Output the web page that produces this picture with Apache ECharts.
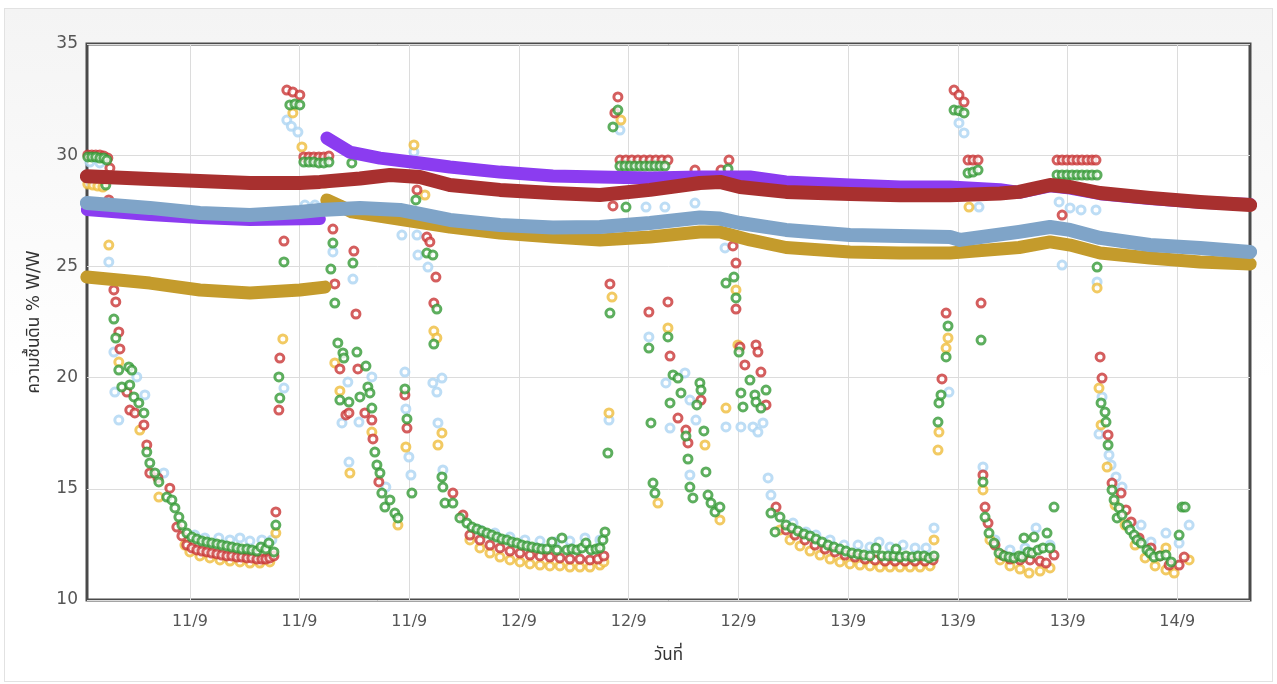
<!DOCTYPE html>
<html>
<head>
<meta charset="utf-8">
<script src="https://cdn.jsdelivr.net/npm/echarts@6/dist/echarts.min.js"></script>
<style>
html,body{margin:0;padding:0;width:1277px;height:684px;overflow:hidden;background:#fff;}
#frame{position:absolute;left:4px;top:8px;width:1267px;height:672px;border:1px solid #e2e2e2;
background:linear-gradient(to bottom,#f4f4f4 0%,#f9f9f9 25%,#ffffff 55%,#ffffff 100%);}
#chart{position:absolute;left:0;top:0;width:1277px;height:684px;}
</style>
</head>
<body>
<div id="frame"></div>
<div id="chart"></div>
<script>
// x values: hours relative to the first tick (11/9); y: soil moisture % W/W
const tickHours = [0, 8, 16, 24, 32, 40, 48, 56, 64, 72];
const tickLabels = ['11/9','11/9','11/9','12/9','12/9','12/9','13/9','13/9','13/9','14/9'];

const purpleA = [[-7.51,27.54],[-2.92,27.31],[0.73,27.18],[4.38,27.09],[9.48,27.13]];
const purpleB = [[9.99,30.77],[11.67,30.14],[13.86,29.87],[16.77,29.65],[18.96,29.47],[22.61,29.24],[26.47,29.06],[29.90,29.02],[33.55,28.97],[37.19,29.02],[40.84,29.02],[43.47,28.80],[48.13,28.66],[51.78,28.57],[55.43,28.57],[59.07,28.45],[60.46,28.33],[62.72,28.62],[64.18,28.52],[66.37,28.27],[70.01,28.05],[73.66,27.88],[77.31,27.78]];
const goldA = [[-7.51,24.52],[-2.92,24.25],[0.73,23.94],[4.38,23.80],[8.02,23.94],[9.85,24.07]];
const goldB = [[9.99,27.99],[10.94,27.72],[11.81,27.45],[15.32,27.12],[18.96,26.77],[22.61,26.50],[26.47,26.32],[29.90,26.19],[33.55,26.32],[37.19,26.55],[38.65,26.55],[40.84,26.19],[43.47,25.85],[48.13,25.65],[51.78,25.60],[55.43,25.60],[60.46,25.85],[62.72,26.10],[64.18,25.96],[66.37,25.60],[70.01,25.38],[73.66,25.20],[77.31,25.11]];
const steelBand = [[-7.51,27.85],[-2.92,27.63],[0.73,27.40],[4.38,27.31],[8.02,27.45],[9.48,27.54],[12.40,27.63],[15.32,27.54],[18.96,27.09],[22.61,26.86],[26.47,26.75],[29.90,26.77],[33.55,26.95],[37.19,27.20],[38.65,27.15],[40.11,26.95],[43.47,26.64],[48.13,26.41],[51.78,26.37],[55.43,26.32],[56.16,26.19],[60.46,26.55],[62.72,26.77],[64.18,26.64],[66.37,26.28],[70.01,25.96],[73.66,25.83],[77.31,25.65]];
const redBand = [[-7.51,29.05],[-2.92,28.93],[0.73,28.84],[4.38,28.75],[8.02,28.75],[9.48,28.80],[12.40,28.95],[14.59,29.11],[16.77,29.02],[18.96,28.66],[22.61,28.44],[26.47,28.30],[29.90,28.21],[33.55,28.44],[37.19,28.75],[38.65,28.80],[40.11,28.57],[43.47,28.35],[48.13,28.25],[51.78,28.20],[55.43,28.20],[59.07,28.28],[60.46,28.35],[62.72,28.66],[64.18,28.57],[66.37,28.30],[70.01,28.08],[73.66,27.90],[77.31,27.76]];

const blueSensor = [[-7.29,29.69],[-6.56,29.65],[-5.91,25.20],[-5.54,21.15],[-5.47,19.35],[-5.18,18.09],[-3.87,20.03],[-3.28,19.22],[-1.90,15.71],
[0.36,12.92],[1.09,12.79],[2.11,12.79],[2.92,12.70],[3.65,12.79],[4.38,12.65],[5.25,12.70],[5.98,12.70],
[6.86,19.53],[7.07,31.58],[7.40,31.30],[7.88,31.04],[8.39,27.76],[9.12,27.76],[9.85,27.76],
[10.43,25.65],[11.89,24.43],[11.52,19.80],[13.27,20.03],[11.09,17.96],[12.33,18.00],[14.29,15.08],[11.60,16.20],
[15.68,20.25],[15.75,18.59],[15.97,16.43],[16.12,15.62],[16.34,30.14],
[15.46,26.41],[16.56,26.41],[16.63,25.51],[17.36,24.97],[17.72,19.76],[18.38,19.98],[18.01,19.35],[18.09,17.96],[18.45,15.85],
[21.15,13.15],[22.24,13.01],[23.34,12.83],[24.43,12.70],[25.53,12.65],[26.62,12.61],[27.71,12.65],[28.81,12.79],[29.90,12.70],
[31.36,31.13],[30.56,18.09],
[33.26,27.67],[34.64,27.67],[36.83,27.85],[33.47,21.83],[34.71,19.76],[36.10,20.21],[35.01,17.73],[36.90,18.09],[36.46,18.99],[36.46,15.62],[39.02,25.83],[39.09,17.78],[40.18,17.78],[41.06,17.78],[41.79,17.96],[41.42,17.55],[42.16,15.49],[42.37,14.72],
[43.98,13.46],[44.92,13.06],[45.65,12.92],[46.68,12.70],[47.70,12.47],[48.72,12.47],[49.59,12.38],[50.25,12.61],[51.05,12.38],[52.00,12.47],[52.88,12.34],[53.68,12.34],[54.26,13.24],
[55.35,19.35],[56.08,31.45],[56.45,31.00],[57.54,27.67],
[57.83,15.98],[58.71,12.70],[59.80,12.25],[60.90,12.34],[61.70,13.24],[62.72,12.47],
[63.38,27.90],[64.18,27.63],[64.98,27.54],[66.07,27.54],[63.60,25.06],[66.15,24.30],
[66.51,19.13],[66.29,17.46],[67.02,16.52],[67.17,16.07],[67.53,15.53],[67.97,15.08],[69.36,13.37],[70.08,12.61],[71.17,13.01],[72.13,12.56],[72.86,13.37]];

const yellowSensor = [[-7.44,28.70],[-7.07,28.66],[-6.71,28.61],[-6.34,28.57],[-5.91,25.96],[-5.18,20.70],[-3.65,17.64],[-2.26,14.63],
[-0.36,12.47],[0,12.16],[0.73,11.98],[1.46,11.89],[2.19,11.80],[2.92,11.75],[3.65,11.71],[4.38,11.66],[5.10,11.66],[5.83,11.71],[6.27,13.01],
[6.78,21.74],[7.51,31.90],[8.17,30.37],[8.39,28.80],[9.12,28.75],[9.85,28.75],
[10.57,20.66],[10.94,19.40],[11.67,15.71],[13.27,17.55],[15.17,13.37],
[15.75,16.88],[16.34,30.46],[17.14,28.21],
[17.79,22.09],[18.01,21.78],[18.38,17.51],[18.09,16.97],
[20.42,12.70],[21.15,12.34],[21.88,12.11],[22.61,11.93],[23.34,11.80],[24.07,11.71],[24.80,11.62],[25.53,11.57],[26.25,11.53],[26.98,11.53],[27.71,11.48],[28.44,11.48],[29.17,11.48],[29.90,11.57],[30.19,11.71],
[30.78,23.62],[31.43,31.58],[30.56,18.41],
[34.86,22.23],[37.56,16.97],[34.13,14.36],[38.65,13.60],[39.82,23.94],[39.96,21.47],[39.09,18.63],
[43.03,13.15],[43.76,12.70],[44.49,12.43],[45.22,12.20],[45.95,12.02],[46.68,11.84],[47.40,11.71],[48.13,11.62],[48.86,11.57],[49.59,11.53],[50.32,11.48],[51.05,11.48],[51.78,11.48],[52.51,11.48],[53.24,11.48],[53.97,11.53],[54.26,12.70],
[55.28,21.78],[55.14,21.33],[54.62,17.55],[54.55,16.74],[56.81,27.67],
[57.83,14.95],[58.34,12.70],[59.07,11.80],[59.80,11.53],[60.53,11.39],[61.19,11.21],[61.99,11.30],[62.72,11.44],
[66.15,24.03],[66.29,19.53],[66.44,17.87],[66.88,15.98],
[67.46,14.27],[68.19,13.37],[68.92,12.47],[69.65,11.89],[70.38,11.53],[71.17,11.35],[71.77,11.21],[72.86,11.80],[71.17,12.34]];

const redSensor = [[-7.44,30.01],[-7.15,30.01],[-6.86,30.01],[-6.56,30.01],[-6.27,29.96],[-5.98,29.87],[-5.83,29.42],[-5.91,27.99],
[-5.54,23.94],[-5.40,23.40],[-5.18,22.05],[-5.10,21.29],[-4.59,19.35],[-4.38,18.54],[-4.01,18.41],[-3.35,17.87],[-3.14,16.97],[-2.92,15.71],[-2.33,15.49],[-1.46,15.03],[-0.95,13.28],[-0.58,12.88],
[-0.22,12.47],[0.15,12.34],[0.51,12.25],[0.88,12.20],[1.24,12.16],[1.60,12.11],[1.97,12.07],[2.33,12.02],[2.70,11.98],[3.06,11.98],[3.43,11.93],[3.79,11.93],[4.16,11.89],[4.52,11.89],[4.89,11.84],[5.25,11.84],[5.54,11.84],[5.83,11.89],[6.13,11.98],
[6.27,13.96],[6.49,18.54],[6.56,20.88],[6.86,26.14],[7.07,32.93],[7.51,32.84],[8.02,32.71],
[8.31,29.92],[8.68,29.92],[9.04,29.92],[9.41,29.92],[9.77,29.92],[10.14,29.96],
[10.43,26.68],[10.57,24.21],[11.96,25.69],[12.11,22.86],[10.94,20.39],[12.25,20.39],[11.38,18.32],[11.60,18.41],[12.76,18.41],[13.27,18.09],[13.35,17.24],[13.78,15.31],
[15.68,19.22],[15.83,17.73],[16.56,28.44],
[17.28,26.32],[17.50,26.10],[17.94,24.52],[17.79,23.35],[19.18,14.81],[19.91,13.82],
[20.42,12.92],[21.15,12.70],[21.88,12.47],[22.61,12.34],[23.34,12.20],[24.07,12.11],[24.80,12.02],[25.53,11.98],[26.25,11.93],[26.98,11.89],[27.71,11.84],[28.44,11.84],[29.17,11.80],[29.75,11.84],[30.19,11.98],
[30.63,24.21],[30.85,27.72],[30.99,31.90],[31.21,32.62],
[31.36,29.78],[31.80,29.78],[32.23,29.78],[32.67,29.78],[33.11,29.78],[33.55,29.78],[33.98,29.78],[34.42,29.78],[34.86,29.78],
[36.83,29.33],[38.73,29.33],[39.31,29.78],
[33.47,22.95],[34.86,23.40],[35.01,20.97],[35.59,18.18],[36.17,17.64],[36.32,17.06],[37.27,18.99],
[39.60,25.92],[39.82,25.15],[39.82,23.08],
[40.11,21.38],[41.28,21.47],[41.42,21.15],[40.47,20.57],[41.64,20.25],[42.01,18.77],
[42.74,14.18],[43.47,13.15],[44.12,12.92],[44.85,12.70],[45.58,12.47],[46.31,12.29],[47.04,12.16],[47.77,12.02],[48.50,11.93],[49.23,11.84],[49.96,11.80],[50.69,11.75],[51.42,11.75],[52.15,11.75],[52.88,11.75],[53.60,11.75],[54.19,11.80],
[55.14,22.90],[54.84,19.94],
[55.72,32.93],[56.08,32.71],[56.45,32.39],
[56.74,29.78],[57.10,29.78],[57.47,29.78],[57.69,23.35],
[57.83,15.62],[57.98,14.18],[58.20,13.46],[58.71,12.47],[59.22,12.02],[59.80,11.84],[60.53,11.80],[61.26,11.80],[61.99,11.75],[62.43,11.66],[63.01,12.02],
[63.23,29.78],[63.60,29.78],[63.96,29.78],[64.33,29.78],[64.69,29.78],[65.05,29.78],[65.42,29.78],[65.78,29.78],[66.07,29.78],[63.60,27.31],
[66.37,20.93],[66.51,19.98],[66.95,17.42],[67.24,15.26],[67.90,14.81],[68.26,14.05],[68.63,13.51],[69.21,12.79],[70.08,12.34],[70.74,11.98],[71.40,11.57],[72.13,11.57],[72.50,11.93]];

const greenSensor = [[-7.44,29.92],[-7.15,29.92],[-6.86,29.92],[-6.56,29.87],[-6.27,29.87],[-6.05,29.78],[-6.13,28.66],
[-5.54,22.63],[-5.40,21.78],[-5.18,20.34],[-4.96,19.58],[-4.45,20.48],[-4.38,19.67],[-4.23,20.34],[-4.08,19.13],[-3.72,18.86],[-3.35,18.41],[-3.14,16.65],[-2.92,16.16],[-2.55,15.71],[-2.26,15.31],[-1.68,14.63],[-1.31,14.50],[-1.09,14.14],[-0.80,13.73],[-0.58,13.37],[-0.22,13.01],
[0.15,12.83],[0.51,12.74],[0.88,12.65],[1.24,12.61],[1.60,12.56],[1.97,12.52],[2.33,12.47],[2.70,12.43],[3.06,12.38],[3.43,12.34],[3.79,12.29],[4.16,12.29],[4.52,12.25],[4.89,12.20],[5.18,12.38],[5.54,12.29],[5.76,12.56],[6.13,12.16],
[6.27,13.37],[6.49,20.03],[6.56,19.08],[6.86,25.20],[7.29,32.26],[7.66,32.30],[8.02,32.26],
[8.31,29.69],[8.68,29.69],[9.04,29.69],[9.41,29.65],[9.77,29.65],[10.14,29.69],[11.81,29.65],
[10.28,24.88],[10.43,26.05],[10.57,23.35],[10.79,21.56],[10.94,18.99],[11.16,21.11],[11.23,20.88],[11.60,18.90],[11.89,25.15],[12.18,21.15],[12.40,19.13],[12.84,20.52],[12.98,19.58],[13.13,19.31],[13.27,18.63],[13.49,16.65],[13.64,16.07],[13.86,15.71],[14.00,14.81],[14.22,14.18],[14.59,14.50],[14.95,13.91],[15.17,13.69],
[15.68,19.49],[15.83,18.14],[16.19,14.81],[16.48,27.99],
[17.28,25.60],[17.72,25.51],[17.79,21.51],[18.01,23.08],[18.38,15.53],[18.45,15.08],[18.60,14.36],[19.18,14.36],[19.69,13.69],[20.20,13.46],
[20.57,13.28],[20.93,13.19],[21.30,13.10],[21.66,13.01],[22.02,12.92],[22.39,12.83],[22.75,12.74],[23.12,12.70],[23.48,12.61],[23.85,12.56],[24.21,12.47],[24.58,12.43],[24.94,12.38],[25.31,12.34],[25.67,12.29],[26.04,12.29],[26.40,12.61],[26.77,12.25],[27.13,12.79],[27.49,12.25],[27.86,12.29],[28.22,12.25],[28.59,12.34],[28.88,12.56],[29.24,12.25],[29.61,12.29],[29.90,12.34],[30.12,12.70],[30.27,13.06],
[30.48,16.61],[30.63,22.90],[30.85,31.27],[31.21,32.03],[31.80,27.67],
[31.36,29.51],[31.72,29.51],[32.09,29.51],[32.45,29.51],[32.82,29.51],[33.18,29.51],[33.55,29.51],[33.91,29.51],[34.28,29.51],[34.64,29.51],[39.24,29.38],
[33.47,21.33],[33.62,17.96],[33.77,15.26],[33.91,14.81],[34.86,21.83],[35.01,18.86],[35.23,20.12],[35.59,19.98],[35.81,19.31],[36.17,17.37],[36.32,16.34],[36.46,15.08],[36.68,14.59],[36.97,18.77],[37.19,19.76],[37.27,19.44],[37.48,17.60],[37.63,15.76],[37.78,14.72],[38.00,14.36],[38.29,13.96],[38.65,14.18],
[39.09,24.25],[39.67,24.52],[39.82,23.58],
[40.04,21.15],[40.18,19.31],[40.33,18.68],[40.84,19.89],[41.20,19.22],[41.28,18.90],[41.64,18.63],[42.01,19.44],
[42.37,13.91],[42.67,13.06],[43.03,13.73],[43.47,13.37],[43.90,13.24],[44.34,13.10],[44.78,12.97],[45.22,12.88],[45.65,12.74],[46.09,12.61],[46.53,12.47],[46.97,12.38],[47.40,12.29],[47.84,12.20],[48.28,12.11],[48.72,12.07],[49.15,12.02],[49.59,11.98],[50.03,12.34],[50.47,11.98],[50.91,11.98],[51.34,11.98],[51.49,12.29],[51.78,11.93],[52.22,11.98],[52.66,11.93],[53.10,11.98],[53.53,11.98],[53.90,11.89],[54.26,11.98],
[54.55,18.00],[54.62,18.86],[54.77,19.22],[55.14,20.93],[55.28,22.32],
[55.72,32.03],[56.08,32.00],[56.45,31.90],
[56.74,29.20],[57.10,29.24],[57.47,29.33],[57.69,21.69],
[57.83,15.31],[57.98,13.73],[58.27,13.01],[58.64,12.56],[59.00,12.11],[59.37,11.98],[59.73,11.93],[60.09,11.89],[60.46,11.98],[60.68,11.93],[60.82,12.79],[61.11,12.16],[61.41,12.11],[61.55,12.83],[61.85,12.25],[62.21,12.34],[62.50,13.01],[62.72,12.34],[63.01,14.18],
[63.23,29.11],[63.60,29.11],[63.96,29.11],[64.33,29.11],[64.69,29.11],[65.05,29.11],[65.42,29.11],[65.78,29.11],[66.15,29.11],[66.15,24.97],
[66.44,18.86],[66.73,18.45],[66.80,18.00],[66.95,16.97],[67.24,14.95],[67.39,14.50],[67.61,13.69],[67.75,14.14],[67.97,13.82],[68.34,13.37],[68.55,13.15],[68.85,12.92],[69.06,12.70],[69.36,12.56],[69.79,12.25],[70.01,12.11],[70.30,11.93],[70.74,11.98],[71.17,12.02],[71.55,11.71],[72.13,12.92],[72.35,14.18],[72.57,14.18]];

const chart = echarts.init(document.getElementById('chart'), null, {renderer: 'canvas'});

function band(data, color, width) {
  return {
    type: 'line', data: data, showSymbol: false, silent: true,
    lineStyle: {color: color, width: width, cap: 'round', join: 'round'},
    itemStyle: {color: color}
  };
}
function sensor(data, color) {
  return {
    type: 'scatter', data: data, symbol: 'circle', symbolSize: 8, silent: true,
    itemStyle: {color: '#ffffff', borderColor: color, borderWidth: 3}
  };
}

const thaiFont = "'DejaVu Sans','Noto Sans Thai','Noto Sans','Loma','Garuda',sans-serif";

chart.setOption({
  animation: false,
  grid: {left: 87, right: 27, top: 44, bottom: 84, show: true, backgroundColor: '#ffffff',
         borderColor: '#4a4a4a', borderWidth: 3},
  xAxis: {
    type: 'value', min: -7.5, max: 77.3,
    name: 'วันที่', nameLocation: 'middle', nameGap: 47,
    nameTextStyle: {fontSize: 17, color: '#333', fontFamily: thaiFont},
    axisLine: {show: false},
    axisTick: {show: false, customValues: tickHours},
    axisLabel: {customValues: tickHours, fontSize: 16, color: '#555', margin: 14,
      fontFamily: "'DejaVu Sans',sans-serif",
      formatter: function (v) { const i = tickHours.indexOf(v); return i >= 0 ? tickLabels[i] : ''; }},
    splitLine: {show: true, lineStyle: {color: '#dcdcdc', width: 1}}
  },
  yAxis: {
    type: 'value', min: 10, max: 35, interval: 5,
    name: 'ความชื้นดิน % W/W', nameLocation: 'middle', nameGap: 44, nameRotate: 90,
    nameTextStyle: {fontSize: 17, color: '#333', fontFamily: thaiFont},
    axisLine: {show: false}, axisTick: {show: false},
    axisLabel: {fontSize: 17, color: '#555', margin: 9, fontFamily: "'DejaVu Sans',sans-serif"},
    splitLine: {show: true, lineStyle: {color: '#dcdcdc', width: 1}}
  },
  series: [
    band(purpleA, '#8b3cf0', 12),
    band(purpleB, '#8b3cf0', 13),
    band(goldA, '#c49b2c', 13),
    band(goldB, '#c49b2c', 13),
    band(steelBand, '#7fa4c8', 14),
    band(redBand, '#a8302f', 14),
    sensor(blueSensor, '#acd4f2'),
    sensor(yellowSensor, '#efbd3c'),
    sensor(redSensor, '#c93636'),
    sensor(greenSensor, '#349a36')
  ]
});
</script>
</body>
</html>
